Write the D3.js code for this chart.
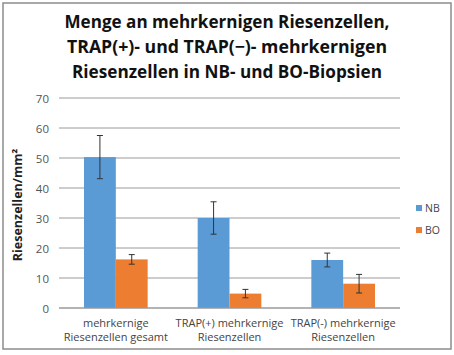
<!DOCTYPE html>
<html><head><meta charset="utf-8">
<script src="https://cdn.jsdelivr.net/npm/d3@7"></script>
<style>body{margin:0;background:#fff}svg{display:block}</style>
</head><body>
<script>
const titleLines = ["Menge an mehrkernigen Riesenzellen,", "TRAP(+)- und TRAP(\u2212)- mehrkernigen", "Riesenzellen in NB- und BO-Biopsien"];
const categories = [["mehrkernige","Riesenzellen gesamt"],["TRAP(+) mehrkernige","Riesenzellen"],["TRAP(-) mehrkernige","Riesenzellen"]];
const seriesNames = ["NB","BO"];
const nbValues = [50.3, 30.0, 16.0];
const boValues = [16.2, 4.8, 8.1];
const nbErrors = [7.2, 5.4, 2.3];
const boErrors = [1.6, 1.4, 3.1];
const yTicks = [0,10,20,30,40,50,60,70];
const yLabel = "Riesenzellen/mm\u00b2";
const colors = ["#5B9BD5","#ED7D31"];

const W=454,H=355;
const svg=d3.select("body").append("svg").attr("width",W).attr("height",H);
svg.append("rect").attr("x",3).attr("y",3).attr("width",448).attr("height",346).attr("fill","#fff").attr("stroke","#8c8c8c").attr("stroke-width",1.5);

const font="Open Sans, sans-serif";
const tl=[325,320,310];
titleLines.forEach((t,i)=>{
  svg.append("text").attr("x",227).attr("y",28+i*25).attr("text-anchor","middle")
    .attr("font-family",font).attr("font-weight","bold").attr("font-size",18).attr("fill","#111")
    .attr("textLength",tl[i]).attr("lengthAdjust","spacingAndGlyphs").text(t);
});

const x0=d3.scaleBand().domain(d3.range(categories.length)).range([59,400]).paddingInner(0.44).paddingOuter(0.22);
const x1=d3.scaleBand().domain(seriesNames).range([0,x0.bandwidth()]);
const y=d3.scaleLinear().domain([0,70]).range([308,98]);

const g=svg.append("g");
yTicks.forEach(t=>{
  g.append("line").attr("x1",59).attr("x2",400).attr("y1",y(t)).attr("y2",y(t)).attr("stroke","#9a9a9a").attr("stroke-width",1);
  g.append("text").attr("x",49).attr("y",y(t)+4.5).attr("text-anchor","end").attr("font-family",font).attr("font-size",11.5).attr("fill","#555").text(t);
});

const data=categories.map((c,i)=>[{s:"NB",v:nbValues[i],e:nbErrors[i]},{s:"BO",v:boValues[i],e:boErrors[i]}]);
const grp=svg.selectAll("g.grp").data(data).join("g").attr("class","grp").attr("transform",(d,i)=>`translate(${x0(i)},0)`);
grp.selectAll("rect").data(d=>d).join("rect").attr("x",d=>x1(d.s)).attr("width",x1.bandwidth())
  .attr("y",d=>y(d.v)).attr("height",d=>y(0)-y(d.v)).attr("fill",(d,i)=>colors[i]);
grp.selectAll("g.err").data(d=>d).join("g").attr("class","err").each(function(d){
  const cx=x1(d.s)+x1.bandwidth()/2, s=d3.select(this);
  s.append("line").attr("x1",cx).attr("x2",cx).attr("y1",y(d.v+d.e)).attr("y2",y(d.v-d.e)).attr("stroke","#333").attr("stroke-width",1);
  [d.v+d.e,d.v-d.e].forEach(v=>s.append("line").attr("x1",cx-3).attr("x2",cx+3).attr("y1",y(v)).attr("y2",y(v)).attr("stroke","#333").attr("stroke-width",1));
});
svg.append("line").attr("x1",59).attr("x2",400).attr("y1",y(0)).attr("y2",y(0)).attr("stroke","#9a9a9a");

categories.forEach((c,i)=>{
  c.forEach((l,j)=>{
    svg.append("text").attr("x",x0(i)+x0.bandwidth()/2).attr("y",327+j*14).attr("text-anchor","middle")
      .attr("font-family",font).attr("font-size",11).attr("fill","#444").text(l);
  });
});

svg.append("text").attr("transform","translate(22,205) rotate(-90)").attr("text-anchor","middle")
  .attr("font-family",font).attr("font-weight","bold").attr("font-size",12.5).attr("fill","#222").text(yLabel);

seriesNames.forEach((s,i)=>{
  svg.append("rect").attr("x",416).attr("y",205+i*22).attr("width",6).attr("height",6).attr("fill",colors[i]);
  svg.append("text").attr("x",425).attr("y",211.5+i*22).attr("font-family",font).attr("font-size",10.5).attr("fill","#444").text(s);
});
</script>
</body></html>
